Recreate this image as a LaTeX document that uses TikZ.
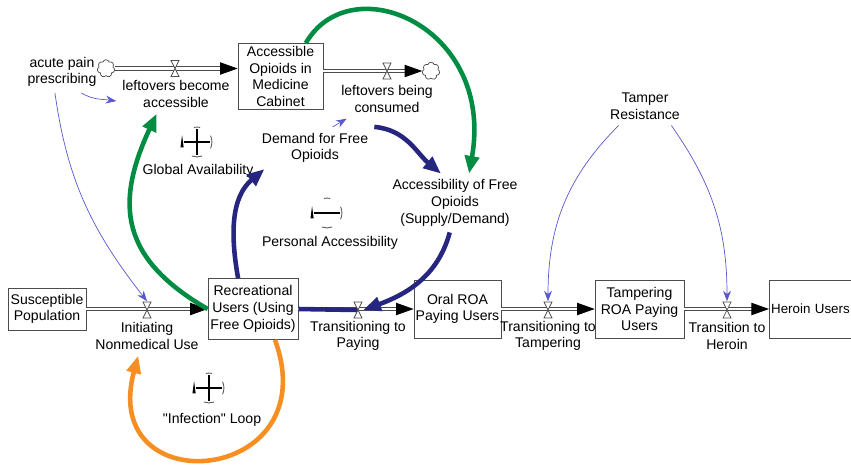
\documentclass[tikz,border=0pt]{standalone}
\usepackage{fontspec}
\setmainfont{Liberation Sans}
\usetikzlibrary{arrows.meta,shapes.symbols}
\definecolor{loopgreen}{RGB}{0,140,66}
\definecolor{loopblue}{RGB}{38,38,128}
\definecolor{looporange}{RGB}{246,142,34}
\definecolor{linkblue}{RGB}{88,88,206}
\tikzset{
  stock/.style={draw=black!70, fill=white, align=center, inner sep=1pt},
  txt/.style={align=center},
  pipe/.style={draw=black!70, line width=.5pt, double=white, double distance=1.6pt, -{Triangle[length=10pt,width=7pt,black]}},
  link/.style={draw=linkblue, line width=.4pt, -{Stealth[length=6pt,width=4.5pt]}},
  fat/.style={line width=2.6pt, -{Triangle[length=10pt,width=8pt]}},
  sink/.style={cloud, cloud puffs=7, draw=black!70, fill=white, minimum width=10pt, minimum height=10pt, inner sep=0pt},
  valve/.pic={\draw[black!70, fill=white, line width=.4pt] (-4,-8) -- (4,-8) -- (-4,8) -- (4,8) -- cycle;},
  lmark/.pic={
    \draw[black!65, line width=.5pt] (78:8.5pt) arc[start angle=78,end angle=102,radius=8.5pt]
      (25:8.5pt) arc[start angle=25,end angle=-25,radius=8.5pt]
      (-70:8.5pt) arc[start angle=-70,end angle=-110,radius=8.5pt];
    \fill (-9.4pt,-3pt) -- (-8.5pt,4pt) -- (-7.6pt,-3pt) -- cycle;
    \draw[line width=.7pt] (-7.5pt,0pt) -- (7.5pt,0pt);},
  lpos/.pic={\pic {lmark}; \draw[line width=.7pt] (0pt,-7.5pt) -- (0pt,7.5pt);},
  lneg/.pic={\pic {lmark};}
}
\begin{document}
\begin{tikzpicture}[x=0.02cm, y=-0.02cm, font=\fontsize{8}{9.5}\selectfont]
  \useasboundingbox (0,0) rectangle (851,471);
  \node[stock, minimum width=1.7cm, minimum height=1.32cm] (aomc) at (280.5,76.5) {Accessible\\Opioids in\\Medicine\\Cabinet};
  \node[stock, minimum width=1.56cm, minimum height=.84cm] (sus) at (47,309) {Susceptible\\Population};
  \node[stock, minimum width=1.8cm, minimum height=1.22cm] (rec) at (253,309) {Recreational\\Users (Using\\Free Opioids)};
  \node[stock, minimum width=1.7cm, minimum height=1.16cm] (oral) at (457.5,309) {Oral ROA\\Paying Users};
  \node[stock, minimum width=1.78cm, minimum height=1.16cm] (tamp) at (639.5,309) {Tampering\\ROA Paying\\Users};
  \node[stock, anchor=west, minimum height=1.16cm, text width=2.3cm, align=left, font=\fontsize{7.6}{9.5}\selectfont] (her) at (769,309) {Heroin Users};
  \node[sink] (c1) at (106,68.5) {};
  \node[sink] (c2) at (431,71) {};

  \coordinate (v0) at (175,68.5);
  \coordinate (v9) at (387,71);
  \coordinate (v1) at (147,310);
  \coordinate (v2) at (358,310);
  \coordinate (v3) at (548,310);
  \coordinate (v4) at (727,310);

  \draw[pipe] (c1.east) -- (c1.east -| aomc.west);
  \draw[pipe] (aomc.east |- c2.west) -- (c2.west);
  \draw[pipe] (sus.east) -- (rec.west);
  \draw[pipe] (rec.east) -- (oral.west);
  \draw[pipe] (oral.east) -- (tamp.west);
  \draw[pipe] (tamp.east) -- (her.west);
  \draw[loopblue, line width=2.6pt] (rec.east) -- (v2);
  \foreach \v in {v0,v9,v1,v2,v3,v4} \pic at (\v) {valve};

  \node[txt] (acute) at (62,72) {acute pain\\prescribing};
  \node[txt] (lba) at (176,94) {leftovers become\\accessible};
  \node[txt] (lbc) at (387,99) {leftovers being\\consumed};
  \node[txt] (dfo) at (315,148) {Demand for Free\\Opioids};
  \node[txt] (afo) at (455,203) {Accessibility of Free\\Opioids\\(Supply/Demand)};
  \node[txt] (tr) at (645,106) {Tamper\\Resistance};
  \node[txt] (init) at (147,336) {Initiating\\Nonmedical Use};
  \node[txt] (ttp) at (358,336) {Transitioning to\\Paying};
  \node[txt] (ttt) at (548,336) {Transitioning to\\Tampering};
  \node[txt] (tth) at (727,336) {Transition to\\Heroin};
  \node (ga) at (198,171) {Global Availability};
  \node (pa) at (330,243) {Personal Accessibility};
  \node (inf) at (212,420) {\textquotedbl Infection\textquotedbl\ Loop};
  \pic at (197,142) {lpos};
  \pic at (327,213) {lneg};
  \pic at (209,388) {lpos};

  \draw[link] ([xshift=-12pt]acute.south east) to[out=-30,in=172] ([yshift=-4pt]lba.west);
  \draw[link] ([xshift=-4pt]acute.south) to[out=-82,in=128] ([yshift=5pt]v1);
  \draw[link] ([xshift=10pt]dfo.north) -- ([xshift=-23pt]lbc.south);
  \draw[link] ([xshift=-15pt]tr.south) to[out=-135,in=90] ([yshift=5pt]v3);
  \draw[link] ([xshift=15pt]tr.south) to[out=-55,in=90] ([yshift=5pt]v4);

  \draw[fat, loopgreen] (rec.west) to[out=150,in=-115,out distance=57pt,in distance=57pt] ([xshift=-11pt]lba.south);
  \draw[fat, loopgreen] ([xshift=-10pt]aomc.north east) to[out=60,in=80,out distance=51pt,in distance=85pt] ([xshift=8pt]afo.north);
  \draw[fat, loopblue] ([xshift=-8.5pt]rec.north) to[out=100,in=-140] ([xshift=5pt]dfo.south west);
  \draw[fat, loopblue] (dfo.north east) to[out=-5,in=140] ([xshift=-8pt]afo.north);
  \draw[fat, loopblue] ([xshift=-3pt]afo.south) to[out=-105,in=20] ([xshift=3pt]v2);
  \draw[fat, looporange] ([xshift=12.5pt]rec.south) to[out=-70,in=-105,out distance=88pt,in distance=88pt] ([xshift=-5pt]init.south);
\end{tikzpicture}
\end{document}
